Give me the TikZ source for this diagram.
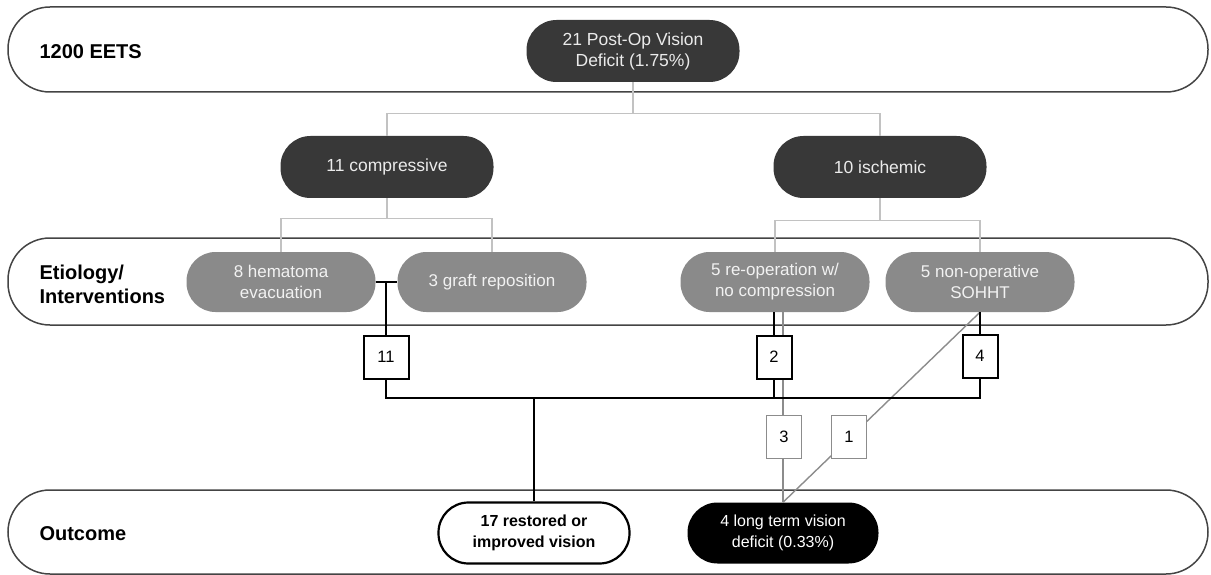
\documentclass[tikz,border=0pt]{standalone}
\usepackage{fontspec}
\setmainfont{Liberation Sans}
\usetikzlibrary{positioning}
\definecolor{darknode}{HTML}{383838}
\definecolor{midnode}{HTML}{8A8A8A}
\definecolor{lanegray}{HTML}{444444}
\definecolor{treegray}{HTML}{C2C2C2}
\definecolor{pathgray}{HTML}{8C8C8C}

\begin{document}
\begin{tikzpicture}[x=1pt, y=-1pt,
  lane/.style={draw=lanegray, line width=1.5pt, rounded corners=42pt, minimum width=1200pt, inner sep=0pt},
  lanelabel/.style={anchor=west, align=left, font=\fontsize{20}{24}\selectfont\bfseries},
  topnode/.style={fill=darknode, rounded corners=30pt, minimum width=213pt, minimum height=62pt, align=center, text=white!92!black, font=\fontsize{17.5}{21}\selectfont},
  subnode/.style={fill=midnode, rounded corners=29pt, minimum width=189pt, minimum height=60pt, align=center, text=white!95!black, font=\fontsize{17}{21}\selectfont},
  endnode/.style={rounded corners=30pt, minimum width=191pt, minimum height=61pt, align=center, font=\fontsize{16}{21}\selectfont},
  countbox/.style={draw=black, line width=2pt, fill=white, minimum width=35pt, minimum height=43pt, inner sep=0pt, font=\fontsize{16.5}{18}\selectfont},
  graybox/.style={countbox, draw=pathgray, line width=1.6pt},
  treeline/.style={treegray, line width=1.3pt},
  blackpath/.style={black, line width=2.2pt},
  graypath/.style={pathgray, line width=1.4pt}
]
\useasboundingbox (0,0) rectangle (1211,575);

% Lanes
\node[lane, minimum height=85pt] (lane1) at (608,49.5) {};
\node[lane, minimum height=87pt] (lane2) at (608,281.5) {};
\node[lane, minimum height=84pt] (lane3) at (608,532) {};
\node[lanelabel] (lab1) at (36,52)  {1200 EETS};
\node[lanelabel] (lab2) at (36,284) {Etiology/\\Interventions};
\node[lanelabel] (lab3) at (36,534) {Outcome};

% Tree
\node[topnode] (postop) at (633,51)  {21 Post-Op Vision\\Deficit (1.75\%)};
\node[topnode] (comp)   at (387,167) {11 compressive};
\node[topnode] (isch)   at (880,167) {10 ischemic};
\node[subnode] (hem)    at (281,282) {8 hematoma\\evacuation};
\node[subnode] (graft)  at (492,282) {3 graft reposition};
\node[subnode] (reop)   at (775,282) {5 re-operation w/\\no compression};
\node[subnode] (sohht)  at (980,282) {5 non-operative\\SOHHT};

\draw[treeline] (postop.south) -- ++(0,31) coordinate (t1);
\draw[treeline] (comp.north) |- (t1) -| (isch.north);
\draw[treeline] (comp.south) -- ++(0,20) coordinate (t2);
\draw[treeline] (hem.north) |- (t2) -| (graft.north);
\draw[treeline] (isch.south) -- ++(0,22) coordinate (t3);
\draw[treeline] (reop.north) |- (t3) -| (sohht.north);

% Outcome
\node[endnode, draw=black, line width=2.2pt, fill=white, font=\fontsize{16}{21}\selectfont\bfseries] (restored) at (534,533) {17 restored or\\improved vision};
\node[endnode, fill=black, text=white] (deficit) at (783,533) {4 long term vision\\deficit (0.33\%)};

% Persistent deficits
\draw[graypath] (deficit.north |- reop.south) -- (deficit.north);
\draw[graypath] (sohht.south) -- (deficit.north);

% Counts
\node[countbox, minimum width=45pt] (b11) at (386,357) {11};
\node[countbox] (b2) at (774,357) {2};
\node[countbox] (b4) at (980,356) {4};
\node[graybox]  (b3) at (784,437) {3};
\node[graybox]  (b1) at (849,437) {1};

% Recovered
\coordinate (bus) at (0,398);
\draw[blackpath] (hem.east) -- (graft.west);
\draw[blackpath] (b11.north |- hem.east) -- (b11.north);
\draw[blackpath] (reop.south -| b2.north) -- (b2.north);
\draw[blackpath] (sohht.south -| b4.north) -- (b4.north);
\draw[blackpath] (b11.south) |- (b4.south |- bus) -- (b4.south);
\draw[blackpath] (b2.south) -- (b2.south |- bus);
\draw[blackpath] (restored.north) -- (restored.north |- bus);
\end{tikzpicture}
\end{document}
